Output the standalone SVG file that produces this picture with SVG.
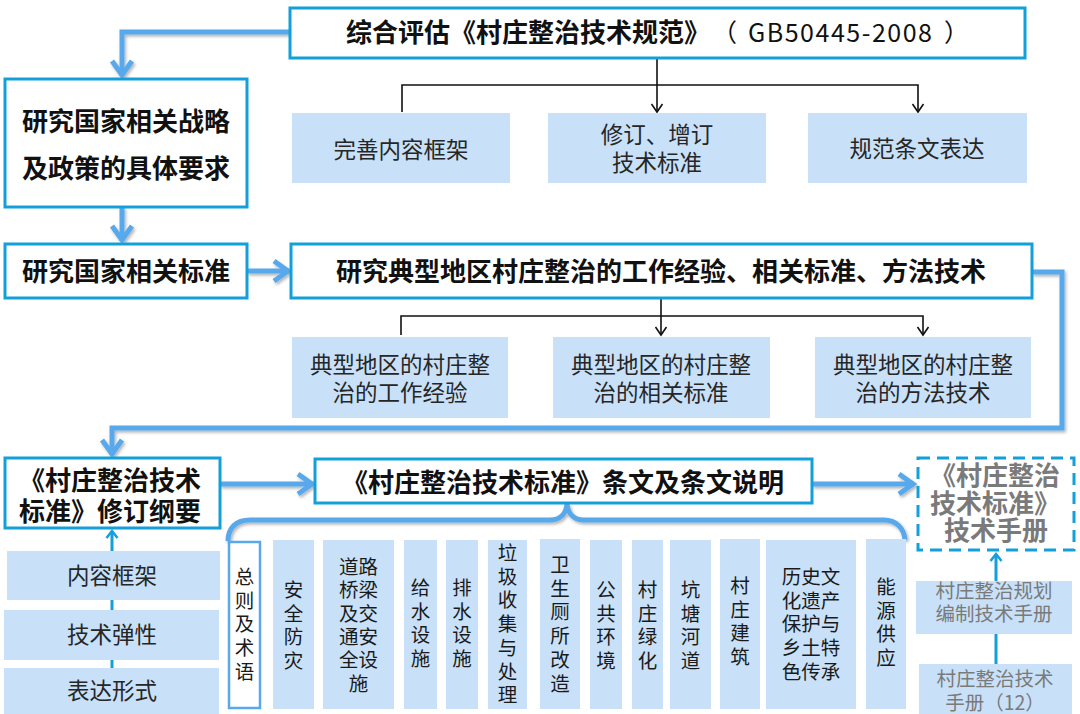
<svg xmlns="http://www.w3.org/2000/svg" width="1080" height="714" viewBox="0 0 1080 714">
<defs>
<style>
.box{fill:#fff;stroke:#139fd9;stroke-width:3}
.lt{fill:#c8e1f8}
.t{font-family:"Noto Sans CJK SC","Liberation Sans",sans-serif;fill:#111}
.b{font-weight:700;font-size:26px}
.s{font-size:22.5px;fill:#262626}
.c{font-size:19.5px;fill:#1a1a1a}
.g{fill:#7a7a7a}
.mid{text-anchor:middle}
.bl{fill:none;stroke:#59a8ec;stroke-width:5;filter:url(#sh)}
.th{fill:none;stroke:#139fd9;stroke-width:3}
.k{fill:none;stroke:#111;stroke-width:1.6}
</style>
<filter id="sh" filterUnits="userSpaceOnUse" x="0" y="0" width="1080" height="714">
<feDropShadow dx="1.5" dy="2" stdDeviation="1.5" flood-color="#000" flood-opacity="0.3"/>
</filter>
<marker id="ab" markerUnits="userSpaceOnUse" markerWidth="40" markerHeight="40" viewBox="-20 -20 40 40" refX="0" refY="0" orient="auto" overflow="visible">
<path d="M-15,-10 L-1,0 L-15,10" fill="none" stroke="#59a8ec" stroke-width="5" stroke-linejoin="miter"/>
</marker>
<marker id="at" markerUnits="userSpaceOnUse" markerWidth="20" markerHeight="20" viewBox="-10 -10 20 20" refX="0" refY="0" orient="auto" overflow="visible">
<path d="M-7,-5.5 L0,0 L-7,5.5" fill="none" stroke="#139fd9" stroke-width="2.5"/>
</marker>
<marker id="ak" markerUnits="userSpaceOnUse" markerWidth="20" markerHeight="20" viewBox="-10 -10 20 20" refX="0" refY="0" orient="auto" overflow="visible">
<path d="M-8,-5.5 L0,0 L-8,5.5" fill="none" stroke="#111" stroke-width="1.6"/>
</marker>
</defs>
<rect width="1080" height="714" fill="#fff"/>

<g id="connectors">
<path class="bl" d="M290,32 H122 V76" marker-end="url(#ab)"/>
<path class="bl" d="M122,207 V241" marker-end="url(#ab)"/>
<path class="bl" d="M247,271 H289" marker-end="url(#ab)"/>
<path class="bl" d="M1032,272 H1062 V428 H112 V455" marker-end="url(#ab)"/>
<path class="bl" d="M220,484 H313" marker-end="url(#ab)"/>
<path class="bl" d="M812,484 H914" marker-end="url(#ab)"/>
<path class="bl" d="M228,541 C228,528 236,520 250,520 L550,520 C560,520 566,514 567,504 C568,514 574,520 584,520 L884,520 C896,520 904,528 905,540"/>
<path class="th" d="M112,714 V531" marker-end="url(#at)"/>
<path class="th" d="M996,714 V554" marker-end="url(#at)"/>
<path class="k" d="M657,59 V112" marker-end="url(#ak)"/>
<path class="k" d="M402,112 V85 H918 V112" marker-end="url(#ak)"/>
<path class="k" d="M661,298 V335" marker-end="url(#ak)"/>
<path class="k" d="M401,335 V316 H923 V335" marker-end="url(#ak)"/>
</g>

<g id="n-top">
<rect class="box" x="290" y="8" width="735" height="50"/>
<text class="t b" x="346" y="42">综合评估《村庄整治技术规范》</text>
<text class="t" x="712" y="42" font-size="25">（</text>
<text class="t" x="748" y="42" font-size="25" textLength="184" lengthAdjust="spacing">GB50445-2008</text>
<text class="t" x="944" y="42" font-size="25">）</text>
</g>
<g id="n-zhanlue">
<rect class="box" x="5" y="79" width="242" height="128"/>
<text class="t b mid" x="126" y="131">研究国家相关战略</text>
<text class="t b mid" x="126" y="178">及政策的具体要求</text>
</g>
<g id="n-biaozhun">
<rect class="box" x="5" y="244" width="242" height="54"/>
<text class="t b mid" x="126" y="281">研究国家相关标准</text>
</g>
<g id="n-dianxing">
<rect class="box" x="291" y="244" width="741" height="54"/>
<text class="t b mid" x="661" y="281">研究典型地区村庄整治的工作经验、相关标准、方法技术</text>
</g>
<g id="n-wanshan">
<rect class="lt" x="292" y="113" width="218" height="70"/>
<text class="t s mid" x="401" y="158">完善内容框架</text>
</g>
<g id="n-xiuding">
<rect class="lt" x="548" y="113" width="218" height="70"/>
<text class="t s mid" x="657" y="143">修订、增订</text>
<text class="t s mid" x="657" y="171">技术标准</text>
</g>
<g id="n-guifan">
<rect class="lt" x="808" y="113" width="219" height="70"/>
<text class="t s mid" x="917" y="157">规范条文表达</text>
</g>
<g id="n-jingyan">
<rect class="lt" x="292" y="337" width="216" height="81"/>
<text class="t s mid" x="400" y="373">典型地区的村庄整</text>
<text class="t s mid" x="400" y="401">治的工作经验</text>
</g>
<g id="n-xiangguan">
<rect class="lt" x="553" y="337" width="217" height="81"/>
<text class="t s mid" x="661" y="373">典型地区的村庄整</text>
<text class="t s mid" x="661" y="401">治的相关标准</text>
</g>
<g id="n-fangfa">
<rect class="lt" x="815" y="337" width="216" height="81"/>
<text class="t s mid" x="923" y="373">典型地区的村庄整</text>
<text class="t s mid" x="923" y="401">治的方法技术</text>
</g>
<g id="n-gangyao">
<rect class="box" x="5" y="458" width="215" height="70"/>
<text class="t b mid" x="110" y="490">《村庄整治技术</text>
<text class="t b mid" x="110" y="521">标准》修订纲要</text>
</g>
<g id="n-tiaowen">
<rect class="box" x="315" y="459" width="497" height="44"/>
<text class="t b mid" x="563" y="492" font-size="25">《村庄整治技术标准》条文及条文说明</text>
</g>
<g id="n-shouce">
<rect x="918" y="458" width="156" height="92" fill="#fff" stroke="#139fd9" stroke-width="3" stroke-dasharray="12 7"/>
<text class="t b g mid" x="995" y="485" font-size="21.5">《村庄整治</text>
<text class="t b g mid" x="995" y="513" font-size="21.5">技术标准》</text>
<text class="t b g mid" x="996" y="540" font-size="21.5">技术手册</text>
</g>
<g id="n-guihua">
<rect class="lt" x="916" y="581" width="156" height="53"/>
<text class="t g mid" x="994" y="598" font-size="19.5">村庄整治规划</text>
<text class="t g mid" x="994" y="621" font-size="19.5">编制技术手册</text>
</g>
<g id="n-jishu12">
<rect class="lt" x="919" y="664" width="153" height="50"/>
<text class="t g mid" x="995" y="686" font-size="19.5">村庄整治技术</text>
<text class="t g mid" x="995" y="710" font-size="19.5">手册（12）</text>
</g>
<g id="n-neirong">
<rect class="lt" x="7" y="551" width="213" height="49"/>
<text class="t s mid" x="112" y="584">内容框架</text>
</g>
<g id="n-tanxing">
<rect class="lt" x="4" y="610" width="215" height="50"/>
<text class="t s mid" x="112" y="643">技术弹性</text>
</g>
<g id="n-xingshi">
<rect class="lt" x="4" y="668" width="215" height="46"/>
<text class="t s mid" x="112" y="699">表达形式</text>
</g>

<g id="n-zongze">
<rect x="229" y="542" width="31" height="166" fill="#fff" stroke="#59a8ec" stroke-width="2.5"/>
<text class="t c mid" x="244.5" y="584"><tspan x="244.5">总</tspan><tspan x="244.5" dy="23.7">则</tspan><tspan x="244.5" dy="23.7">及</tspan><tspan x="244.5" dy="23.7">术</tspan><tspan x="244.5" dy="23.7">语</tspan></text>
</g>
<g id="n-anquan">
<rect class="lt" x="273" y="540" width="41" height="169"/>
<text class="t c mid" x="293.5" y="597"><tspan x="293.5">安</tspan><tspan x="293.5" dy="23.7">全</tspan><tspan x="293.5" dy="23.7">防</tspan><tspan x="293.5" dy="23.7">灾</tspan></text>
</g>
<g id="n-daolu">
<rect class="lt" x="323" y="540" width="71" height="169"/>
<text class="t c mid" x="358.5" y="574"><tspan x="358.5">道路</tspan><tspan x="358.5" dy="23.3">桥梁</tspan><tspan x="358.5" dy="23.3">及交</tspan><tspan x="358.5" dy="23.3">通安</tspan><tspan x="358.5" dy="23.3">全设</tspan><tspan x="358.5" dy="23.3">施</tspan></text>
</g>
<g id="n-geishui">
<rect class="lt" x="404" y="540" width="33" height="169"/>
<text class="t c mid" x="420.5" y="595"><tspan x="420.5">给</tspan><tspan x="420.5" dy="23.7">水</tspan><tspan x="420.5" dy="23.7">设</tspan><tspan x="420.5" dy="23.7">施</tspan></text>
</g>
<g id="n-paishui">
<rect class="lt" x="446" y="540" width="32" height="169"/>
<text class="t c mid" x="462" y="595"><tspan x="462">排</tspan><tspan x="462" dy="23.7">水</tspan><tspan x="462" dy="23.7">设</tspan><tspan x="462" dy="23.7">施</tspan></text>
</g>
<g id="n-laji">
<rect class="lt" x="488" y="540" width="39" height="169"/>
<text class="t c mid" x="507.5" y="560"><tspan x="507.5">垃</tspan><tspan x="507.5" dy="23.7">圾</tspan><tspan x="507.5" dy="23.7">收</tspan><tspan x="507.5" dy="23.7">集</tspan><tspan x="507.5" dy="23.7">与</tspan><tspan x="507.5" dy="23.7">处</tspan><tspan x="507.5" dy="23.7">理</tspan></text>
</g>
<g id="n-cesuo">
<rect class="lt" x="540" y="539" width="40" height="170"/>
<text class="t c mid" x="560" y="572"><tspan x="560">卫</tspan><tspan x="560" dy="23.7">生</tspan><tspan x="560" dy="23.7">厕</tspan><tspan x="560" dy="23.7">所</tspan><tspan x="560" dy="23.7">改</tspan><tspan x="560" dy="23.7">造</tspan></text>
</g>
<g id="n-gonggong">
<rect class="lt" x="590" y="540" width="32" height="169"/>
<text class="t c mid" x="606" y="597"><tspan x="606">公</tspan><tspan x="606" dy="23.7">共</tspan><tspan x="606" dy="23.7">环</tspan><tspan x="606" dy="23.7">境</tspan></text>
</g>
<g id="n-lvhua">
<rect class="lt" x="632" y="540" width="31" height="169"/>
<text class="t c mid" x="647.5" y="597"><tspan x="647.5">村</tspan><tspan x="647.5" dy="23.7">庄</tspan><tspan x="647.5" dy="23.7">绿</tspan><tspan x="647.5" dy="23.7">化</tspan></text>
</g>
<g id="n-kengtang">
<rect class="lt" x="670" y="540" width="41" height="169"/>
<text class="t c mid" x="690.5" y="597"><tspan x="690.5">坑</tspan><tspan x="690.5" dy="23.7">塘</tspan><tspan x="690.5" dy="23.7">河</tspan><tspan x="690.5" dy="23.7">道</tspan></text>
</g>
<g id="n-jianzhu">
<rect class="lt" x="720" y="539" width="40" height="170"/>
<text class="t c mid" x="740" y="593"><tspan x="740">村</tspan><tspan x="740" dy="23.7">庄</tspan><tspan x="740" dy="23.7">建</tspan><tspan x="740" dy="23.7">筑</tspan></text>
</g>
<g id="n-lishi">
<rect class="lt" x="766" y="540" width="90" height="169"/>
<text class="t c mid" x="811" y="584"><tspan x="811">历史文</tspan><tspan x="811" dy="23.7">化遗产</tspan><tspan x="811" dy="23.7">保护与</tspan><tspan x="811" dy="23.7">乡土特</tspan><tspan x="811" dy="23.7">色传承</tspan></text>
</g>
<g id="n-nengyuan">
<rect class="lt" x="866" y="539" width="40" height="170"/>
<text class="t c mid" x="886" y="594"><tspan x="886">能</tspan><tspan x="886" dy="23.7">源</tspan><tspan x="886" dy="23.7">供</tspan><tspan x="886" dy="23.7">应</tspan></text>
</g>
</svg>
